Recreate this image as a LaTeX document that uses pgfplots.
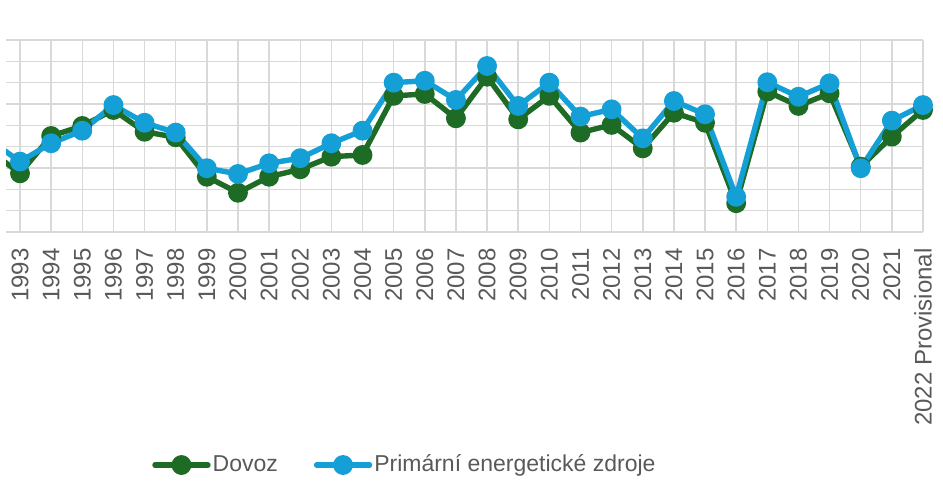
\documentclass[border=0pt]{standalone}
\usepackage{fontspec}
\setmainfont{Liberation Sans}
\usepackage{pgfplots}
\pgfplotsset{compat=1.18}
\definecolor{dovoz}{RGB}{30,107,37}
\definecolor{pez}{RGB}{20,160,215}
\definecolor{txt}{RGB}{89,89,89}
\definecolor{grd}{RGB}{217,217,217}

\begin{document}
\begin{tikzpicture}
\useasboundingbox (-3pt,-133.5pt) rectangle (468.5pt,116pt);
\begin{axis}[
  scale only axis, width=458.5pt, height=96pt,
  xmin=-0.45, xmax=29, ymin=0, ymax=9,
  xtick={0,...,29},
  xticklabels={1993,1994,1995,1996,1997,1998,1999,2000,2001,2002,2003,2004,2005,2006,2007,2008,2009,2010,2011,2012,2013,2014,2015,2016,2017,2018,2019,2020,2021,2022 Provisional},
  ytick={0,...,9}, yticklabels={},
  grid=major, grid style={grd, line width=0.75pt},
  axis line style={draw=none}, major tick length=0pt,
  xticklabel shift=8pt,
  xticklabel style={rotate=90, anchor=east, inner sep=0pt,
    font=\fontsize{12}{14}\selectfont, text=txt},
  legend style={at={(axis description cs:0.435,-1.2135)}, anchor=center,
    draw=none, fill=none, legend columns=2,
    font=\fontsize{11.5}{13}\selectfont, text=txt,
    nodes={inner sep=1pt},
    /tikz/every even column/.append style={column sep=17pt}},
  legend image code/.code={
    \draw[mark repeat=2, mark phase=2, line cap=round, #1]
      plot coordinates {(0pt,0pt)(13.25pt,0pt)(26.5pt,0pt)};},
  every axis plot/.append style={line width=2.7pt, line join=round, line cap=round,
    mark=*, mark size=3.6pt},
]
% Dovoz: segment from the clipped previous year
\addplot[dovoz, no marks, forget plot] coordinates {(-1,3.84)(0,2.75)};
\addplot[dovoz, mark options={fill=dovoz, draw=dovoz}] coordinates {
 (0,2.75)(1,4.50)(2,4.97)(3,5.72)(4,4.70)(5,4.44)(6,2.59)(7,1.84)(8,2.59)(9,2.94)
 (10,3.53)(11,3.61)(12,6.38)(13,6.47)(14,5.33)(15,7.28)(16,5.28)(17,6.38)(18,4.66)(19,5.02)
 (20,3.92)(21,5.59)(22,5.12)(23,1.35)(24,6.58)(25,5.91)(26,6.50)(27,3.06)(28,4.47)(29,5.72)};
\addlegendentry{Dovoz}
% Primarni energeticke zdroje
\addplot[pez, no marks, forget plot] coordinates {(-1,4.34)(0,3.30)};
\addplot[pez, mark options={fill=pez, draw=pez}] coordinates {
 (0,3.30)(1,4.16)(2,4.75)(3,5.95)(4,5.12)(5,4.66)(6,2.99)(7,2.72)(8,3.22)(9,3.46)
 (10,4.16)(11,4.75)(12,7.00)(13,7.09)(14,6.19)(15,7.78)(16,5.91)(17,7.00)(18,5.41)(19,5.75)
 (20,4.39)(21,6.14)(22,5.52)(23,1.65)(24,7.02)(25,6.34)(26,6.97)(27,2.99)(28,5.22)(29,5.95)};
\addlegendentry{Primární energetické zdroje}
\end{axis}
\end{tikzpicture}
\end{document}
